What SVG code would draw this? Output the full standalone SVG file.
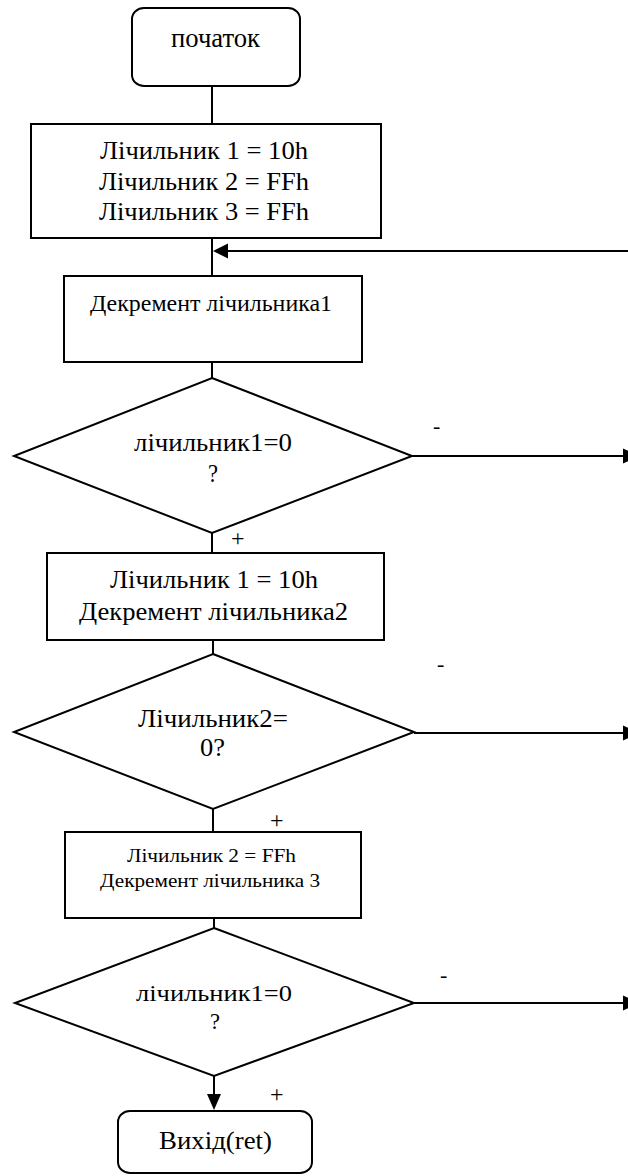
<svg xmlns="http://www.w3.org/2000/svg" width="628" height="1176" viewBox="0 0 628 1176" font-family="'Liberation Serif', 'DejaVu Serif', serif">
<style>
.s{fill:#fff;stroke:#000;stroke-width:2}
text{font-family:'Liberation Serif','DejaVu Serif',serif;fill:#000}
.ln{stroke:#000;stroke-width:2;fill:none}
.ah{fill:#000;stroke:none}
</style>
<rect width="628" height="1176" fill="#fff"/>
<g id="start">
<rect class="s" x="132" y="8" width="168" height="78" rx="12" ry="11"/>
<text x="171" y="47" font-size="27" textLength="89" lengthAdjust="spacingAndGlyphs">початок</text>
</g>
<g id="init">
<rect class="s" x="31" y="124" width="350" height="114"/>
<text x="100" y="159" font-size="26" textLength="208" lengthAdjust="spacingAndGlyphs">Лічильник 1 = 10h</text>
<text x="99" y="190" font-size="26" textLength="210" lengthAdjust="spacingAndGlyphs">Лічильник 2 = FFh</text>
<text x="99" y="220" font-size="26" textLength="210" lengthAdjust="spacingAndGlyphs">Лічильник 3 = FFh</text>
</g>
<g id="dec1">
<rect class="s" x="64" y="276" width="298" height="86"/>
<text x="90" y="311" font-size="24" textLength="242" lengthAdjust="spacingAndGlyphs">Декремент лічильника1</text>
</g>
<g id="cond1">
<polygon class="s" points="212,378 412,456 212,533 14,456"/>
<text x="134" y="451" font-size="25" textLength="158" lengthAdjust="spacingAndGlyphs">лічильник1=0</text>
<text x="208" y="482" font-size="25" textLength="10" lengthAdjust="spacingAndGlyphs">?</text>
</g>
<g id="dec2">
<rect class="s" x="47" y="553" width="337" height="87"/>
<text x="110" y="588" font-size="26" textLength="208" lengthAdjust="spacingAndGlyphs">Лічильник 1 = 10h</text>
<text x="79" y="620" font-size="26" textLength="269" lengthAdjust="spacingAndGlyphs">Декремент лічильника2</text>
</g>
<g id="cond2">
<polygon class="s" points="213,654 414,732 213,809 14,732"/>
<text x="138" y="727" font-size="25" textLength="150" lengthAdjust="spacingAndGlyphs">Лічильник2=</text>
<text x="200" y="756" font-size="25" textLength="25" lengthAdjust="spacingAndGlyphs">0?</text>
</g>
<g id="dec3">
<rect class="s" x="65" y="832" width="296" height="86"/>
<text x="127" y="862" font-size="18" textLength="169" lengthAdjust="spacingAndGlyphs">Лічильник 2 = FFh</text>
<text x="100" y="887" font-size="18" textLength="220" lengthAdjust="spacingAndGlyphs">Декремент лічильника 3</text>
</g>
<g id="cond3">
<polygon class="s" points="214,928 414,1003 214,1076 15,1003"/>
<text x="136" y="1001" font-size="24" textLength="156" lengthAdjust="spacingAndGlyphs">лічильник1=0</text>
<text x="210" y="1029" font-size="24" textLength="10" lengthAdjust="spacingAndGlyphs">?</text>
</g>
<g id="end">
<rect class="s" x="118" y="1111" width="194" height="62" rx="12" ry="11"/>
<text x="159" y="1149" font-size="26" textLength="113" lengthAdjust="spacingAndGlyphs">Вихід(ret)</text>
</g>
<g id="connectors">
<line class="ln" x1="212" y1="86" x2="212" y2="124"/>
<line class="ln" x1="212" y1="238" x2="212" y2="276"/>
<line class="ln" x1="628" y1="251" x2="226" y2="251"/>
<polygon class="ah" points="213,251 228,243.5 228,258.5"/>
<line class="ln" x1="212" y1="362" x2="212" y2="378"/>
<line class="ln" x1="412" y1="456" x2="628" y2="456"/>
<polygon class="ah" points="639,456 623,448.5 623,463.5"/>
<line class="ln" x1="212" y1="533" x2="212" y2="553"/>
<line class="ln" x1="213" y1="640" x2="213" y2="654"/>
<line class="ln" x1="414" y1="733" x2="628" y2="733"/>
<polygon class="ah" points="639,733 623,725.5 623,740.5"/>
<line class="ln" x1="213" y1="809" x2="213" y2="832"/>
<line class="ln" x1="214" y1="918" x2="214" y2="928"/>
<line class="ln" x1="414" y1="1003" x2="628" y2="1003"/>
<polygon class="ah" points="639,1003 623,995.5 623,1010.5"/>
<line class="ln" x1="214" y1="1076" x2="214" y2="1096"/>
<polygon class="ah" points="214,1110 207,1094 221,1094"/>
<text x="433" y="433" font-size="22">-</text>
<text x="437" y="671" font-size="22">-</text>
<text x="440" y="982" font-size="22">-</text>
<text x="231" y="546" font-size="24">+</text>
<text x="270" y="828" font-size="24">+</text>
<text x="270" y="1102" font-size="24">+</text>
</g>
</svg>
